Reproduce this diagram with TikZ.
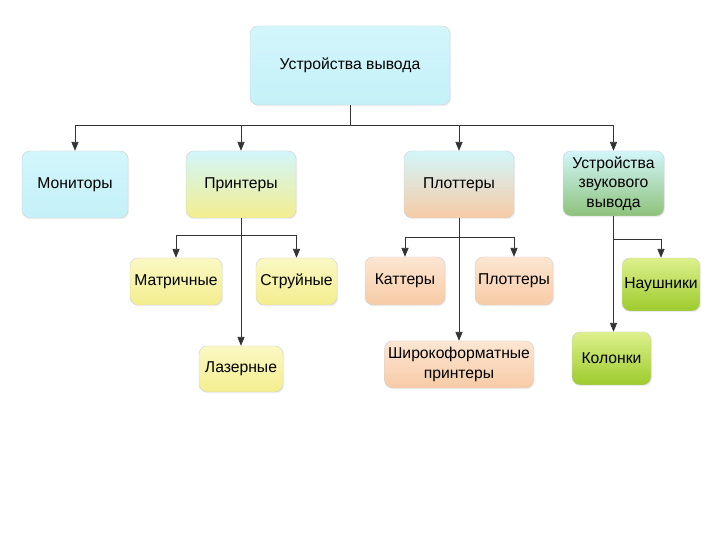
\documentclass[tikz,border=0pt]{standalone}
\usepackage{fontspec}
\setmainfont{Liberation Sans}
\usetikzlibrary{arrows.meta,shadows}

\newlength\pxl
\setlength\pxl{0.03cm}

\definecolor{cyanlt}{HTML}{D2F6FB}
\definecolor{cyanmd}{HTML}{C4F1F8}
\definecolor{yellowlt}{HTML}{FBF8C4}
\definecolor{yellowdk}{HTML}{F3EE8E}
\definecolor{peachlt}{HTML}{FCE6D2}
\definecolor{peachdk}{HTML}{F7CBA6}
\definecolor{limelt}{HTML}{DDF08C}
\definecolor{limedk}{HTML}{9DCB2C}
\definecolor{greendk}{HTML}{8EC27A}

\begin{document}
\begin{tikzpicture}[x=\pxl, y=-\pxl,
    box/.style={draw=gray!35, rounded corners=8\pxl, align=center, inner sep=0pt,
      font=\fontsize{13.4}{16.6}\selectfont,
      drop shadow={opacity=0.12, shadow xshift=1pt, shadow yshift=-1pt}},
    cyanbox/.style={box, top color=cyanlt, bottom color=cyanmd},
    yelbox/.style={box, top color=yellowlt, bottom color=yellowdk},
    peachbox/.style={box, top color=peachlt, bottom color=peachdk},
    limebox/.style={box, top color=limelt, bottom color=limedk},
    arr/.style={draw=black!80, line width=0.6pt, -{Triangle[length=7.5pt,width=6pt]}},
    ln/.style={draw=black!80, line width=0.6pt}]

    % page
    \fill[white] (0,0) rectangle (720,540);

    % Root
    \node[cyanbox, minimum width=200\pxl, minimum height=79\pxl] (out) at (350,65.5) {Устройства вывода};

    % First level
    \node[cyanbox, minimum width=106\pxl, minimum height=67\pxl] (mon) at (75,184.5) {Мониторы};
    \node[box, minimum width=110\pxl, minimum height=67\pxl,
      top color=cyanlt, middle color=cyanmd!70!yellowlt, bottom color=yellowdk] (prn) at (241,184.5) {Принтеры};
    \node[box, minimum width=110\pxl, minimum height=67\pxl,
      top color=cyanlt, middle color=cyanmd!70!peachlt, bottom color=peachdk] (plt) at (459,184.5) {Плоттеры};
    \node[box, minimum width=101\pxl, minimum height=65\pxl,
      top color=cyanlt, middle color=cyanmd!60!greendk, bottom color=greendk] (snd) at (613.5,183.5) {Устройства\\звукового\\вывода};

    % Printers
    \node[yelbox, minimum width=92\pxl, minimum height=47\pxl] (mat) at (176,281.5) {Матричные};
    \node[yelbox, minimum width=81\pxl, minimum height=47\pxl] (str) at (296.5,281.5) {Струйные};
    \node[yelbox, minimum width=84\pxl, minimum height=46\pxl] (laz) at (241,369) {Лазерные};

    % Plotters
    \node[peachbox, minimum width=80\pxl, minimum height=48\pxl] (kat) at (405,281) {Каттеры};
    \node[peachbox, minimum width=78\pxl, minimum height=48\pxl] (plo) at (514,281) {Плоттеры};
    \node[peachbox, minimum width=149\pxl, minimum height=47\pxl] (shir) at (459,364.5) {Широкоформатные\\принтеры};

    % Sound
    \node[limebox, minimum width=78\pxl, minimum height=53\pxl] (nau) at (661,284.5) {Наушники};
    \node[limebox, minimum width=79\pxl, minimum height=53\pxl] (kol) at (611.5,358.5) {Колонки};

    % Root bus
    \draw[ln] (out.south) -- ++(0,20) coordinate (bus);
    \foreach \n in {mon,prn,plt,snd}
        \draw[arr] (bus) -| (\n.north);

    % Printer branches
    \draw[arr] (prn.south) -- (laz.north);
    \coordinate (pbus) at (241,235);
    \draw[arr] (pbus) -| (mat.north);
    \draw[arr] (pbus) -| (str.north);

    % Plotter branches
    \draw[arr] (plt.south) -- (shir.north);
    \coordinate (lbus) at (459,237);
    \draw[arr] (lbus) -| (kat.north);
    \draw[arr] (lbus) -| (plo.north);

    % Sound branches
    \draw[arr] (snd.south) -- (snd.south |- kol.north);
    \coordinate (sbus) at (613.5,239);
    \draw[arr] (sbus) -| (nau.north);
\end{tikzpicture}
\end{document}
